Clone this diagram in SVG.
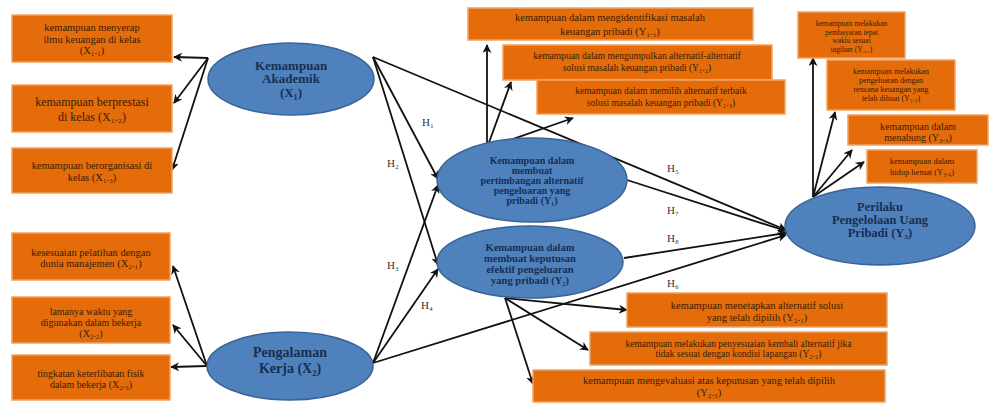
<svg xmlns="http://www.w3.org/2000/svg" width="990" height="403" viewBox="0 0 990 403">
<style>
.box{fill:#E46C0A;stroke:#F2A261;stroke-width:1.5}
.ell{fill:#4F81BD;stroke:#3A6497;stroke-width:1.5}
.bt{font-family:"Liberation Serif","DejaVu Serif",serif;fill:#3a1c05;text-anchor:middle}
.et{font-family:"Liberation Serif","DejaVu Serif",serif;fill:#172F52;text-anchor:middle;font-weight:bold}
.h{font-family:"Liberation Serif","DejaVu Serif",serif;fill:#333;font-size:11px;text-anchor:middle}
.c line{stroke:#111;stroke-width:1.8;marker-end:url(#ah)}
</style>
<defs>
<marker id="ah" viewBox="0 0 10 10" refX="9" refY="5" markerWidth="5" markerHeight="5" orient="auto" markerUnits="strokeWidth">
<path d="M0,0 L10,5 L0,10 L3,5 z" fill="#111"/>
</marker>
</defs>
<rect width="990" height="403" fill="#fff"/>

<g id="connectors" class="c">
<line x1="208" y1="58" x2="174" y2="57"/>
<line x1="208" y1="58" x2="174" y2="103"/>
<line x1="208" y1="58" x2="172" y2="170"/>
<line x1="207" y1="366" x2="173" y2="266"/>
<line x1="207" y1="366" x2="173" y2="325"/>
<line x1="207" y1="366" x2="171" y2="367"/>
<line x1="373" y1="57" x2="438" y2="179"/>
<line x1="373" y1="57" x2="438" y2="265"/>
<line x1="373" y1="57" x2="786" y2="230"/>
<line x1="373" y1="363" x2="438" y2="185"/>
<line x1="373" y1="363" x2="438" y2="269"/>
<line x1="373" y1="363" x2="786" y2="235"/>
<line x1="627" y1="180" x2="786" y2="231"/>
<line x1="624" y1="258" x2="786" y2="233"/>
<line x1="487" y1="148" x2="487" y2="45"/>
<line x1="487" y1="148" x2="511" y2="82"/>
<line x1="487" y1="148" x2="573" y2="118"/>
<line x1="505" y1="298" x2="627" y2="310"/>
<line x1="505" y1="298" x2="588" y2="350"/>
<line x1="505" y1="298" x2="533" y2="384"/>
<line x1="813" y1="197" x2="813" y2="58"/>
<line x1="813" y1="197" x2="835" y2="112"/>
<line x1="813" y1="197" x2="852" y2="150"/>
<line x1="813" y1="197" x2="864" y2="162"/>
</g>

<g id="labels">
<text class="h" x="428" y="126">H₁</text>
<text class="h" x="393" y="167">H₂</text>
<text class="h" x="393" y="269">H₃</text>
<text class="h" x="427" y="309">H₄</text>
<text class="h" x="673" y="172">H₅</text>
<text class="h" x="673" y="214">H₇</text>
<text class="h" x="673" y="242">H₈</text>
<text class="h" x="673" y="287">H₆</text>
</g>

<g id="x11"><rect class="box" x="12" y="15" width="160" height="47"/>
<text class="bt" font-size="10.5"><tspan x="92" y="31">kemampuan menyerap</tspan><tspan x="92" y="42.5">ilmu keuangan di kelas</tspan><tspan x="92" y="54">(X₁.₁)</tspan></text></g>
<g id="x12"><rect class="box" x="12" y="85" width="160" height="47"/>
<text class="bt" font-size="12"><tspan x="92" y="106">kemampuan berprestasi</tspan><tspan x="92" y="121">di kelas (X₁.₂)</tspan></text></g>
<g id="x13"><rect class="box" x="12" y="148" width="160" height="45"/>
<text class="bt" font-size="10.5"><tspan x="92" y="169">kemampuan berorganisasi di</tspan><tspan x="92" y="181">kelas (X₁.₃)</tspan></text></g>
<g id="x21"><rect class="box" x="12" y="233" width="158" height="47"/>
<text class="bt" font-size="10.5"><tspan x="91" y="256">kesesuaian pelatihan dengan</tspan><tspan x="91" y="267">dunia manajemen (X₂.₁)</tspan></text></g>
<g id="x22"><rect class="box" x="12" y="297" width="158" height="46"/>
<text class="bt" font-size="10"><tspan x="91" y="315">lamanya waktu yang</tspan><tspan x="91" y="326">digunakan dalam bekerja</tspan><tspan x="91" y="337">(X₂.₂)</tspan></text></g>
<g id="x23"><rect class="box" x="12" y="355" width="158" height="45"/>
<text class="bt" font-size="10"><tspan x="91" y="377">tingkatan keterlibatan fisik</tspan><tspan x="91" y="388">dalam bekerja (X₂.₃)</tspan></text></g>

<g id="y11"><rect class="box" x="468" y="8" width="285" height="32"/>
<text class="bt" font-size="10.5"><tspan x="610" y="20.5">kemampuan dalam mengidentifikasi masalah</tspan><tspan x="610" y="35">keuangan pribadi (Y₁.₁)</tspan></text></g>
<g id="y12"><rect class="box" x="503" y="45" width="269" height="35"/>
<text class="bt" font-size="9.5"><tspan x="637" y="58.5">kemampuan dalam mengumpulkan alternatif-alternatif</tspan><tspan x="637" y="70.5">solusi masalah keuangan pribadi (Y₁.₂)</tspan></text></g>
<g id="y13"><rect class="box" x="537" y="80" width="248" height="34"/>
<text class="bt" font-size="9.5"><tspan x="661" y="93.5">kemampuan dalam memilih alternatif terbaik</tspan><tspan x="661" y="105.5">solusi masalah keuangan pribadi (Y₁.₃)</tspan></text></g>

<g id="y31"><rect class="box" x="798" y="12" width="107" height="46"/>
<text class="bt" font-size="7.5"><tspan x="851.5" y="26">kemampuan melakukan</tspan><tspan x="851.5" y="34.5">pembayaran tepat</tspan><tspan x="851.5" y="43">waktu sesuai</tspan><tspan x="851.5" y="51.5">tagihan (Y₃.₁)</tspan></text></g>
<g id="y32"><rect class="box" x="827" y="60" width="128" height="50"/>
<text class="bt" font-size="8"><tspan x="891" y="74">kemampuan melakukan</tspan><tspan x="891" y="83">pengeluaran dengan</tspan><tspan x="891" y="92">rencana keuangan yang</tspan><tspan x="891" y="101">telah dibuat (Y₃.₂)</tspan></text></g>
<g id="y33"><rect class="box" x="848" y="115" width="140" height="30"/>
<text class="bt" font-size="10"><tspan x="918" y="129.5">kemampuan dalam</tspan><tspan x="918" y="140.5">menabung (Y₃.₃)</tspan></text></g>
<g id="y34"><rect class="box" x="867" y="150" width="110" height="33"/>
<text class="bt" font-size="8.5"><tspan x="922" y="164">kemampuan dalam</tspan><tspan x="922" y="175">hidup hemat (Y₃.₄)</tspan></text></g>

<g id="y21"><rect class="box" x="627" y="293" width="260" height="34"/>
<text class="bt" font-size="10.5"><tspan x="757" y="308.5">kemampuan menetapkan alternatif solusi</tspan><tspan x="757" y="320.5">yang telah dipilih (Y₂.₁)</tspan></text></g>
<g id="y22"><rect class="box" x="590" y="332" width="297" height="33"/>
<text class="bt" font-size="9.5"><tspan x="738.5" y="346.5">kemampuan melakukan penyesuaian kembali alternatif jika</tspan><tspan x="738.5" y="357">tidak sesuai dengan kondisi lapangan (Y₂.₂)</tspan></text></g>
<g id="y23"><rect class="box" x="533" y="370" width="352" height="32"/>
<text class="bt" font-size="10.5"><tspan x="709" y="383.5">kemampuan mengevaluasi atas keputusan yang telah dipilih</tspan><tspan x="709" y="395.5">(Y₂.₃)</tspan></text></g>

<g id="X1"><ellipse class="ell" cx="291" cy="79" rx="83" ry="36"/>
<text class="et" font-size="13"><tspan x="291" y="69.5">Kemampuan</tspan><tspan x="291" y="83">Akademik</tspan><tspan x="291" y="96.5">(X₁)</tspan></text></g>
<g id="X2"><ellipse class="ell" cx="290" cy="366" rx="83" ry="34"/>
<text class="et" font-size="14"><tspan x="290" y="357">Pengalaman</tspan><tspan x="290" y="373">Kerja (X₂)</tspan></text></g>
<g id="Y1"><ellipse class="ell" cx="532" cy="180" rx="95" ry="42"/>
<text class="et" font-size="10"><tspan x="532" y="164">Kemampuan dalam</tspan><tspan x="532" y="174">membuat</tspan><tspan x="532" y="184">pertimbangan alternatif</tspan><tspan x="532" y="194">pengeluaran yang</tspan><tspan x="532" y="204">pribadi (Y₁)</tspan></text></g>
<g id="Y2"><ellipse class="ell" cx="530" cy="262" rx="93" ry="36"/>
<text class="et" font-size="10.5"><tspan x="530" y="251">Kemampuan dalam</tspan><tspan x="530" y="262">membuat keputusan</tspan><tspan x="530" y="273">efektif pengeluaran</tspan><tspan x="530" y="284">yang pribadi (Y₂)</tspan></text></g>
<g id="Y3"><ellipse class="ell" cx="880" cy="226" rx="95" ry="39"/>
<text class="et" font-size="12.5"><tspan x="880" y="211">Perilaku</tspan><tspan x="880" y="224">Pengelolaan Uang</tspan><tspan x="880" y="237">Pribadi (Y₃)</tspan></text></g>
</svg>
